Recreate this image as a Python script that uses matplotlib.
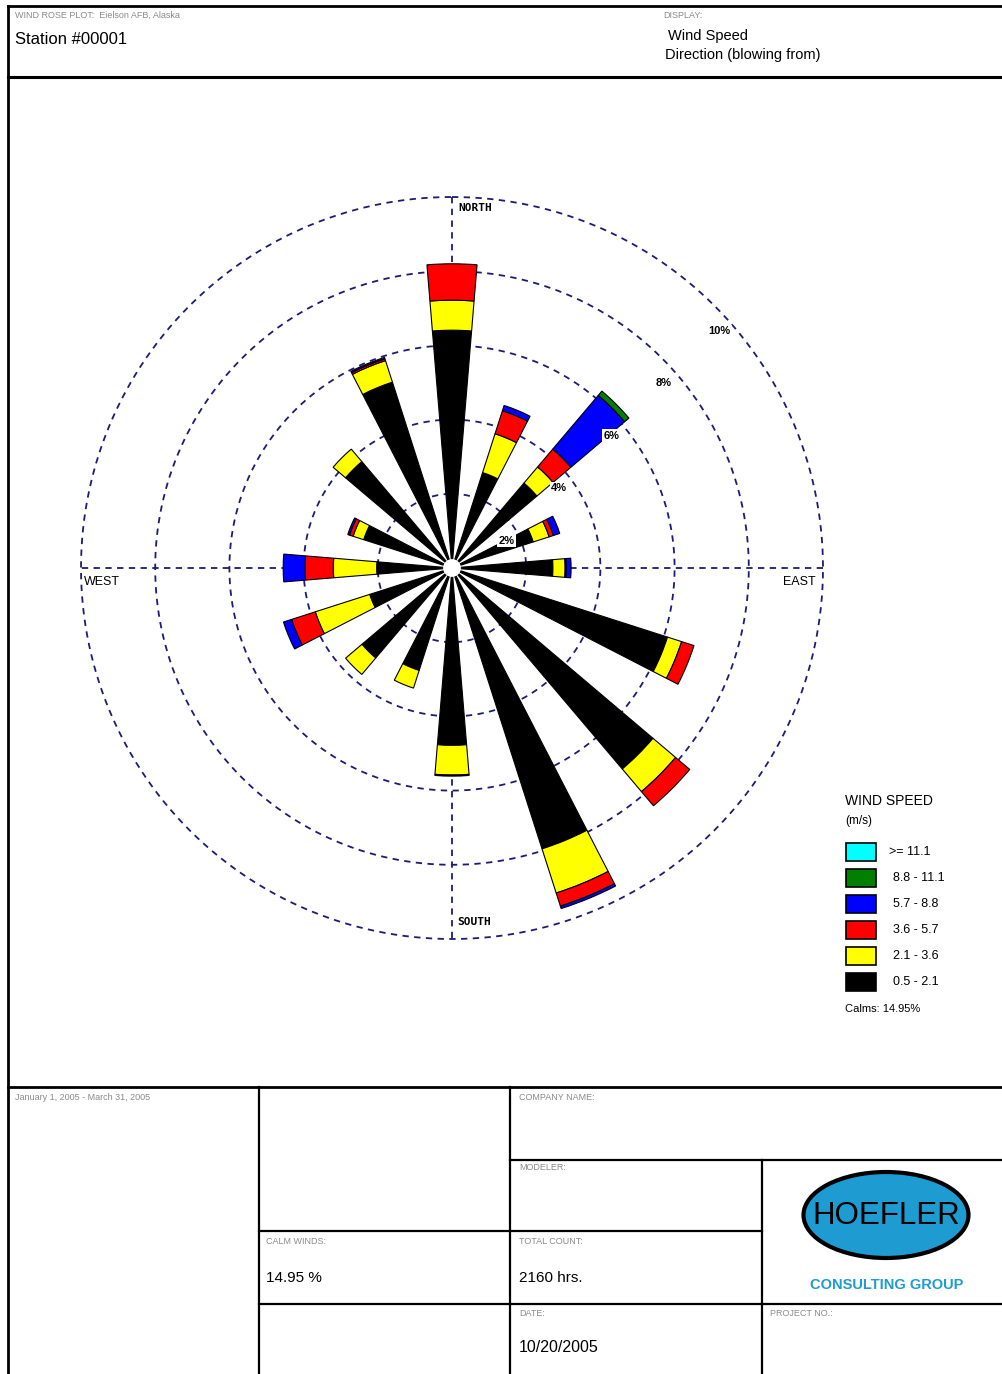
import numpy as np
import matplotlib
matplotlib.use("Agg")
import matplotlib.pyplot as plt
from matplotlib.patches import Rectangle, Ellipse
from matplotlib.lines import Line2D

# ---------------- data ----------------
directions = ["N", "NNE", "NE", "ENE", "E", "ESE", "SE", "SSE",
              "S", "SSW", "SW", "WSW", "W", "WNW", "NW", "NNW"]
speed_classes = ["0.5 - 2.1", "2.1 - 3.6", "3.6 - 5.7", "5.7 - 8.8", "8.8 - 11.1", ">= 11.1"]
class_colors = ["#000000", "#ffff00", "#ff0000", "#0000ff", "#007f00", "#00ffff"]

# frequency (%) of each speed class per direction
freq_05_21 = [6.41, 2.70, 3.00, 2.30, 2.72, 6.10, 7.10, 7.95, 4.78, 2.90, 3.18, 2.33, 2.03, 2.50, 3.76, 5.26]
freq_21_36 = [0.81, 1.10, 0.57, 0.45, 0.33, 0.40, 0.80, 1.25, 0.80, 0.50, 0.58, 1.54, 1.17, 0.30, 0.44, 0.61]
freq_36_57 = [0.98, 0.65, 0.63, 0.12, 0.03, 0.35, 0.50, 0.37, 0.03, 0.00, 0.00, 0.67, 0.76, 0.10, 0.00, 0.05]
freq_57_88 = [0.00, 0.15, 1.90, 0.18, 0.13, 0.00, 0.00, 0.07, 0.00, 0.00, 0.00, 0.23, 0.59, 0.05, 0.00, 0.04]
freq_88_111 = [0.00, 0.00, 0.15, 0.00, 0.00, 0.00, 0.00, 0.00, 0.00, 0.00, 0.00, 0.00, 0.00, 0.00, 0.00, 0.00]
freq_ge_111 = [0.0] * 16
class_freqs = [freq_05_21, freq_21_36, freq_36_57, freq_57_88, freq_88_111, freq_ge_111]

ring_values = [2, 4, 6, 8, 10]
ring_labels = ["2%", "4%", "6%", "8%", "10%"]
calm_pct = "14.95%"

# ---------------- figure ----------------
W, H = 1003, 1374
fig = plt.figure(figsize=(W / 100, H / 100), dpi=100)
fig.patch.set_facecolor("white")
plt.rcParams["font.family"] = ["Liberation Sans", "DejaVu Sans"]


def fx(x):
    return x / W


def fy(y):
    return 1 - y / H


def hline(x0, x1, y, lw=1.6, color="black"):
    fig.add_artist(Line2D([fx(x0), fx(x1)], [fy(y), fy(y)], lw=lw, color=color,
                          transform=fig.transFigure))


def vline(x, y0, y1, lw=1.6, color="black"):
    fig.add_artist(Line2D([fx(x), fx(x)], [fy(y0), fy(y1)], lw=lw, color=color,
                          transform=fig.transFigure))


def ftext(x, y, s, size=7, color="black", ha="left", va="center", **kw):
    fig.text(fx(x), fy(y), s, fontsize=size, color=color, ha=ha, va=va, **kw)


# frame lines
vline(8, 6, H, lw=2)
hline(8, W, 6, lw=2)
hline(8, W, 77, lw=2.2)
hline(8, W, 1087, lw=2)

# header
grey = "#8a8a8a"
ftext(15, 15, "WIND ROSE PLOT:  Eielson AFB, Alaska", size=6.5, color=grey)
ftext(15, 40, "Station #00001", size=12)
ftext(663, 15, "DISPLAY:", size=6.5, color=grey)
ftext(668, 36, "Wind Speed", size=10.5)
ftext(665, 55, "Direction (blowing from)", size=10.5)

# footer grid
vline(259, 1087, H, lw=1.6)
vline(510, 1087, H, lw=1.6)
vline(762, 1160, H, lw=1.6)
hline(510, W, 1160, lw=1.6)
hline(259, 762, 1231, lw=1.6)
hline(259, W, 1304, lw=1.6)

ftext(15, 1097, "January 1, 2005 - March 31, 2005", size=6.5, color=grey)
ftext(519, 1097, "COMPANY NAME:", size=6.5, color=grey)
ftext(519, 1168, "MODELER:", size=6.5, color=grey)
ftext(266, 1241, "CALM WINDS:", size=6.5, color=grey)
ftext(266, 1278, "14.95 %", size=11)
ftext(519, 1241, "TOTAL COUNT:", size=6.5, color=grey)
ftext(519, 1278, "2160 hrs.", size=11)
ftext(519, 1313, "DATE:", size=6.5, color=grey)
ftext(519, 1348, "10/20/2005", size=11.5)
ftext(770, 1313, "PROJECT NO.:", size=6.5, color=grey)

# logo
logo_blue = "#1e9bd0"
fig.add_artist(Ellipse((fx(886), fy(1215)), 165 / W, 86 / H, facecolor=logo_blue,
                       edgecolor="black", lw=3, transform=fig.transFigure))
fig.text(fx(886), fy(1216), "HOEFLER", fontsize=22.5, color="black", ha="center", va="center")
fig.text(fx(887), fy(1285), "CONSULTING GROUP", fontsize=10.5, color=logo_blue, ha="center",
         va="center", fontweight="bold")

# ---------------- wind rose ----------------
cx, cy, R = 452, 568, 371
ax = fig.add_axes([fx(cx - R), fy(cy + R), 2 * R / W, 2 * R / H], projection="polar")
ax.set_theta_zero_location("N")
ax.set_theta_direction(-1)
ax.set_ylim(0, 10)
ax.set_axis_off()

grid_color = "#1c1c72"
tt = np.linspace(0, 2 * np.pi, 721)
for rv in ring_values:
    ax.plot(tt, np.full_like(tt, rv), color=grid_color, lw=1.3,
            linestyle=(0, (3.5, 3)), clip_on=False, zorder=1)
for ang in [0, np.pi / 2]:
    ax.plot([ang, ang], [10, 0], color=grid_color, lw=1.3, linestyle=(0, (3.5, 3)),
            clip_on=False, zorder=1)
    ax.plot([ang + np.pi, ang + np.pi], [0, 10], color=grid_color, lw=1.3,
            linestyle=(0, (3.5, 3)), clip_on=False, zorder=1)

theta = np.deg2rad(np.arange(16) * 22.5)
bar_width = 0.165
bottom = np.zeros(16)
for vals, col in zip(class_freqs, class_colors):
    vals = np.array(vals)
    mask = vals > 0
    ax.bar(theta[mask], vals[mask], width=bar_width, bottom=bottom[mask], color=col,
           edgecolor="black", linewidth=0.8, zorder=3)
    bottom = bottom + vals

# calm circle in the centre
ax.bar(0, 0.24, width=2 * np.pi, bottom=0, color="white", edgecolor="none", zorder=4)

# ring labels
for rv, lab in zip(ring_values, ring_labels):
    ax.annotate(lab, xy=(np.pi / 4, rv), xytext=(-6, -25), textcoords="offset pixels",
                ha="left", va="center", fontsize=8, fontweight="bold", zorder=6,
                bbox=dict(boxstyle="square,pad=0.1", fc="white", ec="none"))

# compass labels
ax.annotate("NORTH", xy=(0, 10), xytext=(6, -11), textcoords="offset pixels",
            ha="left", va="center", fontsize=8, fontweight="bold", family="DejaVu Sans Mono")
ax.annotate("SOUTH", xy=(np.pi, 10), xytext=(5, 17), textcoords="offset pixels",
            ha="left", va="center", fontsize=8, fontweight="bold", family="DejaVu Sans Mono")
ax.annotate("WEST", xy=(3 * np.pi / 2, 10), xytext=(3, -14), textcoords="offset pixels",
            ha="left", va="center", fontsize=9)
ax.annotate("EAST", xy=(np.pi / 2, 10), xytext=(-7, -14), textcoords="offset pixels",
            ha="right", va="center", fontsize=9)

# ---------------- legend ----------------
ftext(845, 801, "WIND SPEED", size=10)
ftext(845, 821, "(m/s)", size=8.5)
legend_rows = list(zip(speed_classes, class_colors))[::-1]
for i, (lab, col) in enumerate(legend_rows):
    yc = 852 + i * 26
    fig.add_artist(Rectangle((fx(846), fy(yc + 9)), 30 / W, 18 / H, facecolor=col,
                             edgecolor="black", lw=1.2, transform=fig.transFigure))
    ftext(889 if lab.startswith(">") else 893, yc, lab, size=9)
ftext(845, 1009, "Calms: " + calm_pct, size=8)

fig.savefig("out.png", dpi=100)
